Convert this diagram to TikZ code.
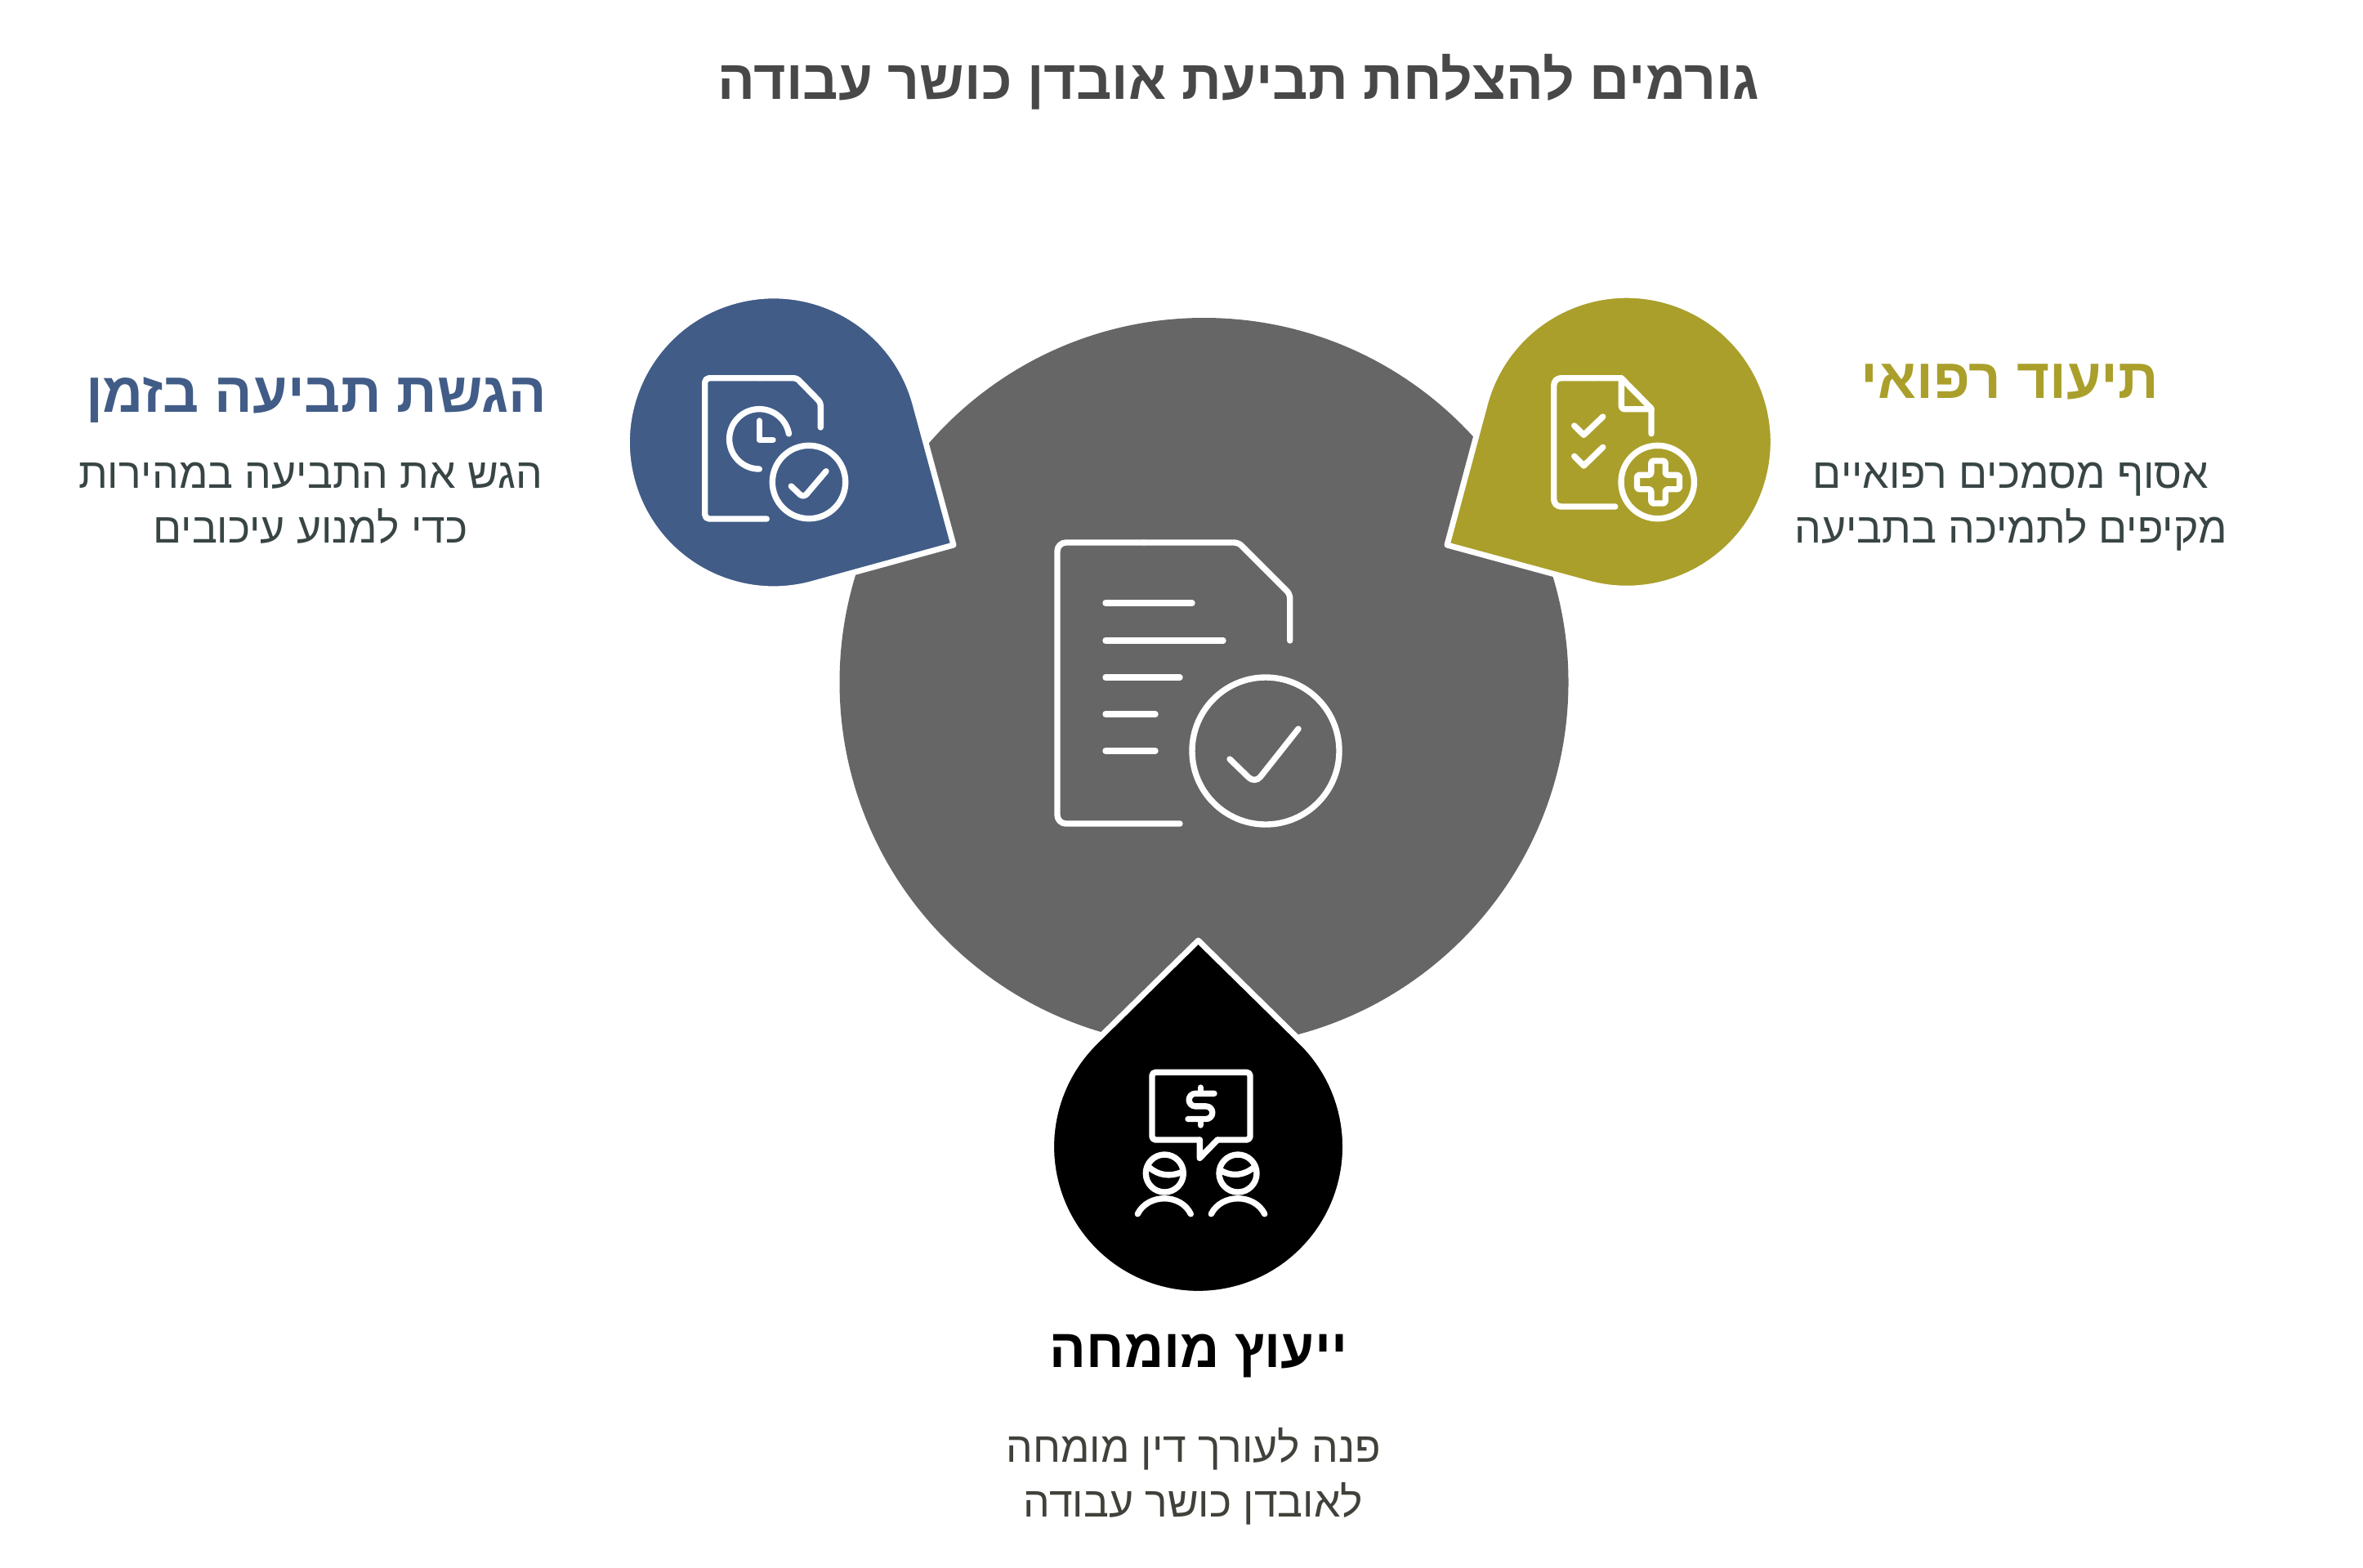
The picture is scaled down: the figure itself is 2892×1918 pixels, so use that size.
\documentclass[tikz,border=0pt]{standalone}
\usepackage{fontspec}
\setmainfont{Liberation Sans}
\newfontfamily\hebfont[Script=Hebrew]{Liberation Sans}
\TeXXeTstate=1
\definecolor{graymain}{HTML}{666666}
\definecolor{bluedrop}{HTML}{415C87}
\definecolor{golddrop}{HTML}{AA9F2B}
\definecolor{titlecol}{HTML}{484848}
\definecolor{desccol}{HTML}{394545}
\definecolor{desccolb}{HTML}{40413A}
\tikzset{
  dropshape/.style={draw=white,line width=2pt,line join=round},
  ic/.style={draw=white,line width=2.1pt,line cap=round,line join=round},
  titletext/.style={font=\hebfont\fontsize{19.3}{22}\selectfont\bfseries,text=titlecol,inner sep=0pt},
  headtext/.style={font=\hebfont\fontsize{19.6}{22}\selectfont\bfseries,inner sep=0pt},
  desctext/.style={font=\hebfont\fontsize{14.7}{19.2}\selectfont,align=center,inner sep=0pt},
}
\newcommand{\rl}[1]{\beginR #1\endR}
\begin{document}
\begin{tikzpicture}[x=0.01cm,y=0.01cm,yscale=-1]
\useasboundingbox (0,0) rectangle (2892,1918);
\fill[white] (0,0) rectangle (2892,1918);
\fill[graymain] (1473.5,835) circle[radius=446];
% drops
\path[dropshape,fill=bluedrop] (1167,667) -- (1120,494) arc[start angle=-15.3,end angle=-285.1,radius=179.5] -- cycle;
\path[dropshape,fill=golddrop] (1771,667) -- (1944,714) arc[start angle=105.1,end angle=-164.7,radius=179.5] -- cycle;
\path[dropshape,fill=black] (1466.5,1151) -- (1592.7,1275) arc[start angle=-45.5,end angle=225.5,radius=180] -- cycle;
% main icon
\draw[ic,rounded corners=1.5] (1578.7,784) -- (1578.7,727) -- (1515.7,664) -- (1400,664);
\draw[ic,rounded corners=3] (1400,664) -- (1294,664) -- (1294,1008) -- (1444,1008);
\draw[ic] (1353,738) -- (1459,738);
\draw[ic] (1353,784) -- (1497,784);
\draw[ic] (1353,829) -- (1444,829);
\draw[ic] (1353,874) -- (1414,874);
\draw[ic] (1353,919) -- (1414,919);
\draw[ic] (1549,919) circle[radius=90];
\draw[ic,rounded corners=3] (1505,929) -- (1536,959) -- (1589,892);
% blue icon
\draw[ic,rounded corners=1] (1004.3,523) -- (1004.3,492.7) -- (975,462.7) -- (930,462.7);
\draw[ic,rounded corners=1.5] (930,462.7) -- (862.7,462.7) -- (862.7,635) -- (938.3,635);
\draw[ic] (929.3,574) arc[start angle=90,end angle=350,radius=36.7];
\draw[ic] (929.3,515) -- (929.3,538.3) -- (946,538.3);
\draw[ic] (990,590) circle[radius=44.7];
\draw[ic,rounded corners=1.5] (968.3,595) -- (983.3,609.3) -- (1011,576.7);
% gold icon
\draw[ic] (2021,530.7) -- (2021,500) -- (1984.3,462.7) -- (1950,462.7);
\draw[ic,rounded corners=2.5] (1950,462.7) -- (1901.7,462.7) -- (1901.7,620) -- (1976.7,620);
\draw[ic,rounded corners=1] (1984.3,462.7) -- (1984.3,500.7) -- (2021,500.7);
\draw[ic] (1926.7,521) -- (1938.3,532.3) -- (1961.7,510);
\draw[ic] (1926.7,558.3) -- (1938.3,570) -- (1961.7,547.3);
\draw[ic] (2028.7,590) circle[radius=44.7];
\draw[ic,rounded corners=0.8] (2020.8,564) -- (2038.2,564) -- (2038.2,581.3) -- (2055.5,581.3) -- (2055.5,598.7) -- (2038.2,598.7) -- (2038.2,616) -- (2020.8,616) -- (2020.8,598.7) -- (2003.5,598.7) -- (2003.5,581.3) -- (2020.8,581.3) -- cycle;
% black icon
\draw[ic,rounded corners=1.2] (1468.3,1395) -- (1410,1395) -- (1410,1312.3) -- (1530,1312.3) -- (1530,1395) -- (1490,1395);
\draw[ic] (1490,1395) -- (1468.3,1417.3) -- (1468.3,1395);
\draw[ic] (1469.3,1331) -- (1469.3,1338);
\draw[ic] (1469.3,1370) -- (1469.3,1377);
\draw[ic] (1486,1338.3) -- (1463,1338.3) arc[start angle=270,end angle=90,radius=7.8] -- (1476,1353.9) arc[start angle=-90,end angle=90,radius=7.8] -- (1454,1369.5);
\draw[ic] (1425.3,1436) circle[radius=23];
\draw[ic] (1515,1436) circle[radius=23];
\draw[ic] (1406,1428.3) .. controls (1418,1439) and (1432,1440) .. (1445,1435);
\draw[ic] (1495,1433) .. controls (1508,1440) and (1522,1439) .. (1535,1428.3);
\draw[ic] (1392.3,1485.7) .. controls (1405,1460.4) and (1445,1460.4) .. (1457.3,1485.7);
\draw[ic] (1482.3,1485.7) .. controls (1495,1460.4) and (1535,1460.4) .. (1547.7,1485.7);
% text
\node[titletext] (title) at (1516,100) {\rl{גורמים להצלחת תביעת אובדן כושר עבודה}};
\node[headtext,text=bluedrop] (bluehead) at (387,490) {\rl{הגשת תביעה בזמן}};
\node[desctext,text=desccol] (bluedesc) at (380,616) {\rl{הגש את התביעה במהירות}\\\rl{כדי למנוע עיכובים}};
\node[headtext,text=golddrop] (goldhead) at (2460,467) {\rl{תיעוד רפואי}};
\node[desctext,text=desccol] (golddesc) at (2461,620) {\rl{אסוף מסמכים רפואיים}\\\rl{מקיפים לתמיכה בתביעה}};
\node[headtext,text=black,font=\hebfont\fontsize{18.9}{22}\selectfont\bfseries] (blackhead) at (1467,1659) {\rl{ייעוץ מומחה}};
\node[desctext,text=desccolb] (blackdesc) at (1460.5,1807) {\rl{פנה לעורך דין מומחה}\\\rl{לאובדן כושר עבודה}};
\end{tikzpicture}
\end{document}
